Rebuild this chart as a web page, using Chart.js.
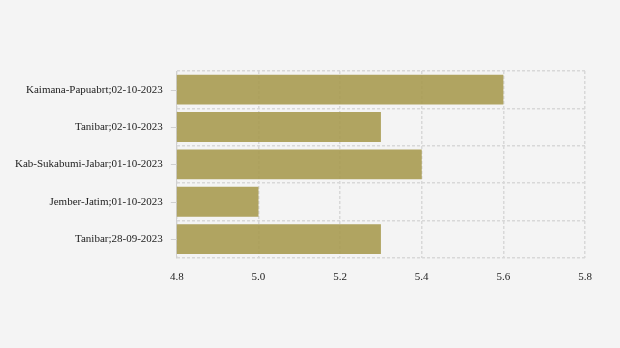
<!DOCTYPE html>
<html>
<head>
<meta charset="utf-8">
<script src="https://cdn.jsdelivr.net/npm/chart.js@4"></script>
<style>
  html,body{margin:0;padding:0;background:#f4f4f4;}
  #wrap{width:620px;height:348px;}
</style>
</head>
<body>
<div id="wrap"><canvas id="chart"></canvas></div>
<script>
const labels = ["Kaimana-Papuabrt;02-10-2023", "Tanibar;02-10-2023", "Kab-Sukabumi-Jabar;01-10-2023", "Jember-Jatim;01-10-2023", "Tanibar;28-09-2023"]
const values = [5.6, 5.3, 5.4, 5.0, 5.3]
const xTicks = [4.8, 5.0, 5.2, 5.4, 5.6, 5.8]

// small tick marks at the category centres on the y axis
const yTickMarks = {
  id: "yTickMarks",
  afterDatasetsDraw(chart) {
    const y = chart.scales.y
    const ctx = chart.ctx
    ctx.save()
    ctx.strokeStyle = "#d0d0d0"
    ctx.lineWidth = 1
    y.ticks.forEach((t, i) => {
      const py = Math.round(y.getPixelForTick(i)) + 0.5
      ctx.beginPath()
      ctx.moveTo(y.right - 6, py)
      ctx.lineTo(y.right, py)
      ctx.stroke()
    })
    ctx.restore()
  }
}

Chart.defaults.font.family = "'Liberation Serif', 'Times New Roman', serif"
Chart.defaults.font.size = 11
Chart.defaults.color = "#222"

new Chart(document.getElementById("chart"), {
  type: "bar",
  data: {
    labels: labels,
    datasets: [{
      data: values,
      backgroundColor: "rgba(166,152,76,0.88)",
      borderWidth: 0,
      barPercentage: 0.8,
      categoryPercentage: 1.0
    }]
  },
  plugins: [yTickMarks],
  options: {
    indexAxis: "y",
    responsive: true,
    maintainAspectRatio: false,
    animation: false,
    layout: { padding: { top: 71, right: 35, bottom: 51, left: 1 } },
    plugins: { legend: { display: false }, tooltip: { enabled: false } },
    scales: {
      x: {
        min: 4.8, max: 5.8,
        afterBuildTicks: (s) => { s.ticks = xTicks.map(v => ({ value: v })) },
        ticks: { padding: 13, callback: (v) => Number(v).toFixed(1) },
        grid: { color: "#d8d8d8", lineWidth: 1.5, drawTicks: false },
        border: { display: false, dash: [3, 2] }
      },
      y: {
        ticks: { padding: 14 },
        grid: { offset: true, color: "#d8d8d8", lineWidth: 1.5, drawTicks: false },
        border: { display: true, color: "#d0d0d0", dash: [3, 2] }
      }
    }
  }
})
</script>
</body>
</html>
